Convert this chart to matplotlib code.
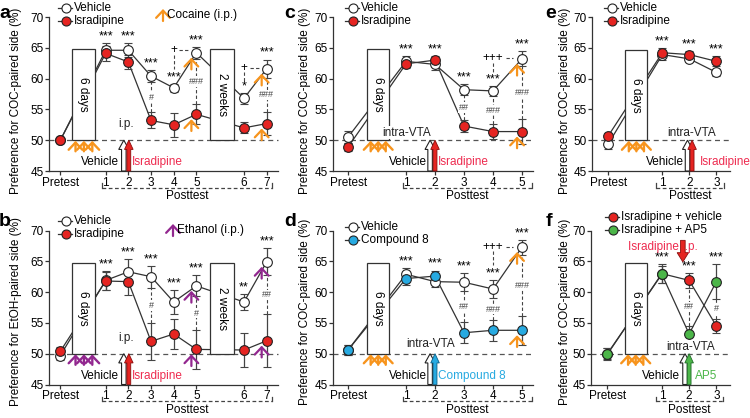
import matplotlib
matplotlib.use('Agg')
import matplotlib.pyplot as plt
import matplotlib.transforms as mtransforms
from matplotlib.patches import Rectangle, FancyArrow, FancyArrowPatch
from matplotlib.lines import Line2D

plt.rcParams['font.family'] = ['Liberation Sans', 'DejaVu Sans']
plt.rcParams['axes.linewidth'] = 0.9

W, H = 750, 418

ORANGE = '#f7941d'
PURPLE = '#92278f'
RED = '#e52421'
PINK = '#ee2b4f'
BLUE = '#27aae1'
GREEN = '#4cb649'
DARK = '#333333'

# ---------------- data ----------------
# a: cocaine CPP, isradipine i.p.
a_labels = ['Pretest', '1', '2', '3', '4', '5', '6', '7']
a_veh = [50.0, 64.6, 64.6, 60.4, 58.5, 64.2, 56.8, 61.6]
a_veh_err = [0.5, 1.1, 1.1, 1.0, 0.6, 1.0, 0.9, 1.5]
a_isr = [50.0, 64.1, 62.7, 53.2, 52.5, 54.2, 52.0, 52.7]
a_isr_err = [0.5, 1.2, 1.2, 1.3, 1.9, 1.6, 0.9, 1.9]
a_stars = ['', '***', '***', '***', '***', '***', '*', '***']
a_hash = {3: '#', 5: '###', 7: '###'}

# b: ethanol CPP, isradipine i.p.
b_veh = [49.7, 61.9, 63.3, 62.5, 58.4, 61.0, 58.4, 64.9]
b_veh_err = [0.8, 1.5, 2.0, 1.8, 2.0, 1.7, 1.3, 2.2]
b_isr = [50.4, 61.8, 61.7, 52.0, 53.2, 50.7, 50.6, 52.1]
b_isr_err = [0.7, 1.5, 2.1, 3.0, 2.4, 3.2, 2.8, 4.3]
b_stars = ['', '***', '***', '***', '***', '***', '**', '***']
b_hash = {3: '#', 5: '#', 7: '##'}

# c: cocaine CPP, isradipine intra-VTA
c_labels = ['Pretest', '1', '2', '3', '4', '5']
c_veh = [50.5, 62.8, 62.3, 58.2, 58.0, 63.2]
c_veh_err = [1.0, 0.9, 0.9, 0.9, 0.8, 1.2]
c_isr = [48.9, 62.4, 63.0, 52.3, 51.4, 51.4]
c_isr_err = [0.7, 0.6, 0.6, 1.0, 1.2, 2.0]
c_stars = ['', '***', '***', '***', '***', '***']
c_hash = {3: '##', 4: '###', 5: '###'}

# d: cocaine CPP, compound 8 intra-VTA
d_veh = [50.6, 62.9, 61.7, 61.6, 60.5, 67.3]
d_veh_err = [0.8, 1.0, 0.8, 1.5, 1.5, 1.2]
d_cmp = [50.6, 62.2, 62.6, 53.4, 53.8, 53.8]
d_cmp_err = [0.8, 1.0, 0.9, 1.7, 1.7, 2.4]
d_stars = ['', '***', '***', '***', '***', '***']
d_hash = {3: '##', 4: '###', 5: '###'}

# e: cocaine CPP, isradipine intra-VTA after extinction
e_labels = ['Pretest', '1', '2', '3']
e_veh = [49.4, 63.9, 63.2, 61.0]
e_veh_err = [0.8, 0.8, 0.5, 0.6]
e_isr = [50.7, 64.2, 63.9, 62.8]
e_isr_err = [0.5, 0.8, 0.6, 0.8]
e_stars = ['', '***', '***', '***']

# f: isradipine i.p. + vehicle / AP5 intra-VTA
f_veh = [49.9, 63.0, 61.9, 54.5]
f_veh_err = [1.0, 1.6, 1.2, 1.2]
f_ap5 = [50.0, 62.9, 53.2, 61.7]
f_ap5_err = [0.9, 1.4, 1.3, 2.8]
f_stars = ['', '***', '***', '***']
f_hash = {2: '##', 3: '#'}

xs_ab = [0, 2, 3, 4, 5, 6, 8.1, 9.1]
xs_cd = [0, 2, 3, 4, 5, 6]
xs_ef = [0, 2, 3, 4]

fig = plt.figure(figsize=(7.5, 4.18), dpi=100)

ARROW = '->,head_length=0.4,head_width=0.38'


def fx(x):
    return x / W


def fy(y):
    return 1 - y / H


def make_ax(l, t, r, b):
    return fig.add_axes([l / W, 1 - b / H, (r - l) / W, (b - t) / H])


def small_arrow(ax, x, y0, y1, color, lw=1.6):
    ax.annotate('', xy=(x, y1), xytext=(x, y0),
                arrowprops=dict(arrowstyle=ARROW, mutation_scale=13,
                                color=color, lw=lw, shrinkA=0, shrinkB=0),
                annotation_clip=False, zorder=5)


def panel(ax, xs, labels, series, xlim, boxes, stars, hashes, pluses,
          inj_idx, inj_dx, col, under_x, drug, post):
    ax.set_xlim(*xlim)
    ax.set_ylim(45, 70)
    ax.spines[['top', 'right']].set_visible(False)
    ax.spines[['left', 'bottom']].set_color(DARK)
    ax.set_yticks(range(45, 71, 5))
    ax.set_xticks(xs)
    ax.set_xticklabels(labels)
    ax.tick_params(labelsize=8.5, length=3, width=0.9, pad=1, color=DARK)
    ax.plot(xlim, [50, 50], color='#555', lw=0.9, ls=(0, (4, 3)), zorder=0.5, clip_on=False)

    for vals, errs, fc in series:
        ax.plot(xs, vals, color=DARK, lw=0.9, zorder=1)
    for x0, x1, top, txt in boxes:
        ax.add_patch(Rectangle((x0, 50), x1 - x0, top - 50, fc='white', ec=DARK, lw=0.9, zorder=2))
        ax.text((x0 + x1) / 2, (50 + top) / 2, txt, rotation=270, ha='center', va='center',
                fontsize=8.5, zorder=2.5)
    for vals, errs, fc in series:
        ax.errorbar(xs, vals, yerr=errs, fmt='o', ms=7, mfc=fc, mec='#222', mew=0.8,
                    ecolor='#444', elinewidth=0.9, capsize=3, capthick=0.9, zorder=3, clip_on=False)

    tops = [max(s[0][i] + s[1][i] for s in series) for i in range(len(xs))]
    for i, txt in enumerate(stars):
        if txt:
            ax.text(xs[i], tops[i] + 0.1, txt, ha='center', va='bottom', fontsize=9, zorder=4)

    for i, txt in hashes.items():
        lo = min(series, key=lambda s: s[0][i])
        hi = max(series, key=lambda s: s[0][i])
        y0 = lo[0][i] + lo[1][i]
        y1 = hi[0][i] - hi[1][i]
        ax.plot([xs[i], xs[i]], [y0, y1], color='#444', lw=0.8, ls=(0, (3, 2)), zorder=2)
        ax.text(xs[i], (y0 + y1) / 2, txt, ha='center', va='center', fontsize=6.5, color='#444',
                bbox=dict(fc='white', ec='none', pad=0.5), zorder=2.5)

    for i, j, txt, y, ylow, gap in pluses:
        ax.text(xs[i], y, txt, ha='center', va='center', fontsize=8.5, zorder=4)
        ax.plot([xs[i] + gap, xs[j] - 0.3], [y, y], color='#444', lw=0.8, ls=(0, (3, 2)), zorder=2)
        ax.plot([xs[i], xs[i]], [y - 0.7, ylow], color='#444', lw=0.8, ls=(0, (3, 2)), zorder=2)

    for i in inj_idx:
        for vals, errs, fc in series:
            small_arrow(ax, xs[i] + inj_dx, vals[i] - 2.7, vals[i] - 0.8, col)

    for ux in under_x:
        small_arrow(ax, ux, 48.2, 49.9, col, lw=1.7)

    # drug infusion arrows
    ax.add_patch(FancyArrow(drug['xw'], 45, 0, 5, width=0.2 * drug['u'], head_width=0.45 * drug['u'],
                            head_length=1.5, length_includes_head=True, fc='white', ec='#222',
                            lw=0.8, zorder=4, clip_on=False))
    ax.add_patch(FancyArrow(drug['xc'], 45, 0, 5, width=0.17 * drug['u'], head_width=0.38 * drug['u'],
                            head_length=1.5, length_includes_head=True, fc=drug['color'],
                            ec=drug['edge'], lw=0.6, zorder=4.5, clip_on=False))
    ax.text(drug['top_x'], drug['top_y'], drug['top'], ha='center', va='center', fontsize=8.5,
            color='#222', bbox=dict(fc='white', ec='none', pad=0.3), zorder=3.5)
    ax.text(drug['veh_x'], 46.4, 'Vehicle', ha='right', va='center', fontsize=8.5, zorder=4)
    ax.text(drug['name_x'], 46.4, drug['name'], ha='left', va='center', fontsize=8.5,
            color=drug['name_color'], zorder=4, clip_on=False)

    # posttest bracket
    tr = mtransforms.blended_transform_factory(ax.transData, ax.transAxes)
    x0, x1 = post
    ax.plot([x0, x1], [-0.108, -0.108], transform=tr, color='#444', lw=0.9, ls=(0, (3, 2)),
            clip_on=False)
    for xe in (x0, x1):
        ax.plot([xe, xe], [-0.108, -0.078], transform=tr, color='#444', lw=0.9, clip_on=False)
    ax.text((x0 + x1) / 2, -0.125, 'Posttest', transform=tr, ha='center', va='top', fontsize=8.5)


def legend_item(x, y, fc, text):
    fig.add_artist(Line2D([fx(x - 8), fx(x + 6)], [fy(y), fy(y)], color=DARK, lw=0.9))
    fig.add_artist(Line2D([fx(x)], [fy(y)], marker='o', ms=6.5, mfc=fc, mec='#222', mew=0.8, ls='none'))
    fig.text(fx(x + 8), fy(y), text, fontsize=8.5, va='center', ha='left')


def legend_arrow(x, y, color, text):
    fig.add_artist(FancyArrowPatch((fx(x), fy(y + 6)), (fx(x), fy(y - 6)), transform=fig.transFigure,
                                   arrowstyle=ARROW, mutation_scale=13, color=color, lw=1.6,
                                   shrinkA=0, shrinkB=0))
    fig.text(fx(x + 4), fy(y), text, fontsize=8.5, va='center', ha='left')


ylab_coc = 'Preference for COC-paired side (%)'
ylab_eth = 'Preference for EtOH-paired side (%)'

# ---- a ----
ax_a = make_ax(49, 17, 278, 171)
panel(ax_a, xs_ab, a_labels,
      [(a_veh, a_veh_err, 'white'), (a_isr, a_isr_err, RED)],
      (-0.5, 9.6), [(0.53, 1.51, 64.8, '6 days'), (6.62, 7.64, 64.8, '2 weeks')],
      a_stars, a_hash, [(4, 5, '+', 64.6, 61.6, 0.25), (6, 7, '+', 61.7, 59.3, 0.25)],
      [5, 7], -0.22, ORANGE, [0.67, 1.04, 1.41],
      dict(xw=2.8, xc=3.02, u=1.0, color=RED, edge='#8a0d0d', top='i.p.', top_x=2.88, top_y=52.6,
           veh_x=2.6, name='Isradipine', name_x=3.15, name_color=PINK),
      (1.85, 9.33))

# ---- b ----
ax_b = make_ax(49, 230.5, 278, 384.5)
panel(ax_b, xs_ab, a_labels,
      [(b_veh, b_veh_err, 'white'), (b_isr, b_isr_err, RED)],
      (-0.5, 9.6), [(0.53, 1.51, 64.8, '6 days'), (6.62, 7.64, 64.8, '2 weeks')],
      b_stars, b_hash, [],
      [5, 7], -0.22, PURPLE, [0.67, 1.04, 1.41],
      dict(xw=2.8, xc=3.02, u=1.0, color=RED, edge='#8a0d0d', top='i.p.', top_x=2.88, top_y=52.6,
           veh_x=2.6, name='Isradipine', name_x=3.15, name_color=PINK),
      (1.85, 9.33))

# ---- c ----
ax_c = make_ax(333, 17, 533, 171)
panel(ax_c, xs_cd, c_labels,
      [(c_veh, c_veh_err, 'white'), (c_isr, c_isr_err, RED)],
      (-0.52, 6.38), [(0.66, 1.41, 64.8, '6 days')],
      c_stars, c_hash, [(4, 5, '+++', 63.3, 61.0, 0.45)],
      [5], -0.17, ORANGE, [0.78, 1.04, 1.3],
      dict(xw=2.83, xc=3.0, u=0.78, color=RED, edge='#8a0d0d', top='intra-VTA', top_x=2.03, top_y=51.2,
           veh_x=2.72, name='Isradipine', name_x=3.09, name_color=PINK),
      (1.9, 6.34))

# ---- d ----
ax_d = make_ax(333, 230.5, 533, 384.5)
panel(ax_d, xs_cd, c_labels,
      [(d_veh, d_veh_err, 'white'), (d_cmp, d_cmp_err, BLUE)],
      (-0.52, 6.38), [(0.66, 1.41, 64.8, '6 days')],
      d_stars, d_hash, [(4, 5, '+++', 67.4, 64.4, 0.45)],
      [5], -0.17, ORANGE, [0.78, 1.04, 1.3],
      dict(xw=2.83, xc=3.0, u=0.78, color=BLUE, edge='#0b5f86', top='intra-VTA', top_x=2.86, top_y=51.5,
           veh_x=2.71, name='Compound 8', name_x=3.1, name_color=BLUE),
      (1.9, 6.34))

# ---- e ----
ax_e = make_ax(592, 17, 730, 171)
panel(ax_e, xs_ef, e_labels,
      [(e_veh, e_veh_err, 'white'), (e_isr, e_isr_err, RED)],
      (-0.6, 4.5), [(0.63, 1.44, 64.6, '6 days')],
      e_stars, {}, [],
      [], 0, ORANGE, [0.76, 1.04, 1.32],
      dict(xw=2.93, xc=3.1, u=0.83, color=RED, edge='#8a0d0d', top='intra-VTA', top_x=3.1, top_y=51.2,
           veh_x=2.78, name='Isradipine', name_x=3.37, name_color=PINK),
      (1.78, 4.26))

# ---- f ----
ax_f = make_ax(591, 230.5, 730, 384.5)
panel(ax_f, xs_ef, e_labels,
      [(f_veh, f_veh_err, RED), (f_ap5, f_ap5_err, GREEN)],
      (-0.6, 4.5), [(0.63, 1.44, 64.7, '6 days')],
      f_stars, f_hash, [],
      [], 0, ORANGE, [0.76, 1.04, 1.32],
      dict(xw=2.85, xc=3.0, u=0.83, color=GREEN, edge='#1d6b26', top='intra-VTA', top_x=3.05, top_y=51.1,
           veh_x=2.67, name='AP5', name_x=3.22, name_color=GREEN),
      (1.78, 4.26))
ax_f.text(2.04, 67.4, 'Isradipine i.p.', ha='center', va='center', fontsize=8.5, color=PINK,
          zorder=4, clip_on=False)
ax_f.add_patch(FancyArrow(2.77, 68.4, 0, -3.5, width=0.17, head_width=0.42, head_length=1.5,
                          length_includes_head=True, fc=RED, ec='#8a0d0d', lw=0.6, zorder=5,
                          clip_on=False))

# ---- y labels ----
for x, y, lab in [(16, 101, ylab_coc), (16, 312, ylab_eth), (305, 101, ylab_coc),
                  (305, 312, ylab_coc), (565, 101, ylab_coc), (565, 312, ylab_coc)]:
    fig.text(fx(x), fy(y), lab, rotation=90, ha='center', va='center', fontsize=8.5)

# ---- panel letters ----
for letter, (x, y) in {'a': (5, 13), 'b': (5, 221), 'c': (290, 13), 'd': (290, 221),
                       'e': (551, 13), 'f': (549, 221)}.items():
    fig.text(fx(x), fy(y), letter, fontsize=14, fontweight='bold', ha='center', va='center')

# ---- legends ----
legend_item(66, 8, 'white', 'Vehicle')
legend_item(66, 21, RED, 'Isradipine')
legend_arrow(163, 15, ORANGE, 'Cocaine (i.p.)')

legend_item(66, 221, 'white', 'Vehicle')
legend_item(66, 234, RED, 'Isradipine')
legend_arrow(173, 230, PURPLE, 'Ethanol (i.p.)')

legend_item(353, 8, 'white', 'Vehicle')
legend_item(353, 21, RED, 'Isradipine')

legend_item(353, 227, 'white', 'Vehicle')
legend_item(353, 240, BLUE, 'Compound 8')

legend_item(612, 8, 'white', 'Vehicle')
legend_item(612, 21, RED, 'Isradipine')

legend_item(613, 217, RED, 'Isradipine + vehicle')
legend_item(613, 230, GREEN, 'Isradipine + AP5')

fig.savefig('out.png', dpi=100)
